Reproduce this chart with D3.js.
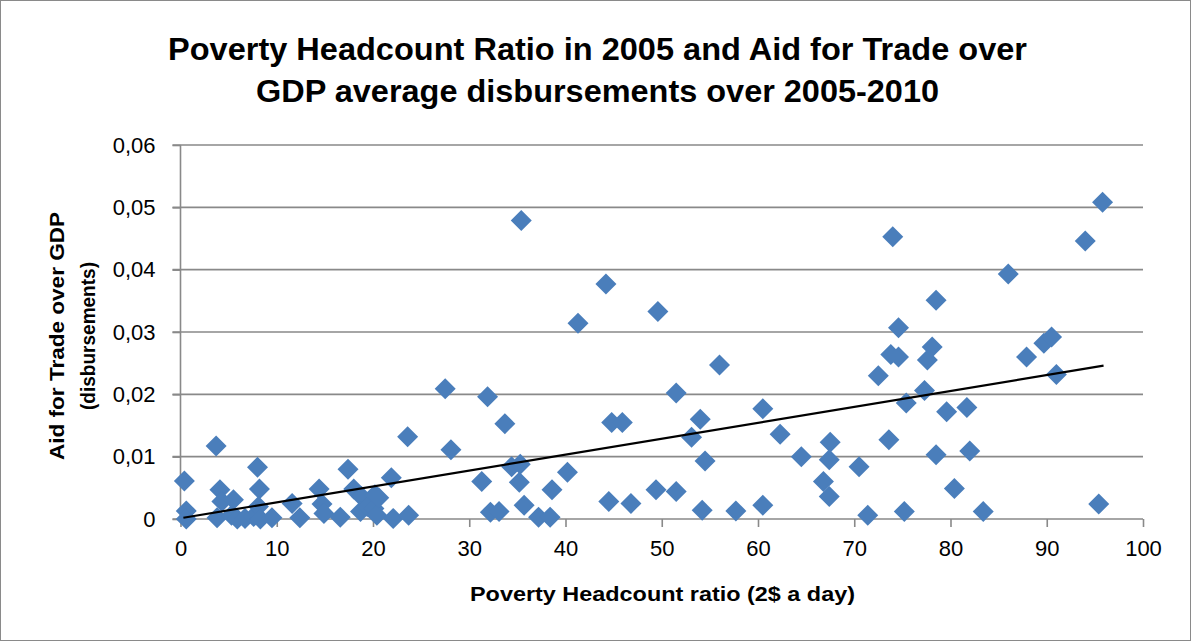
<!DOCTYPE html>
<html>
<head>
<meta charset="utf-8">
<script src="https://cdn.jsdelivr.net/npm/d3@7"></script>
<style>
  html, body { margin: 0; padding: 0; background: #fff; }
  svg { display: block; }
</style>
</head>
<body>
<svg id="chart" width="1192" height="642"></svg>
<script>
// ---- data ----
const povertyRatio = [
  0.4, 0.6, 0.6, 3.7, 4.1, 4.3, 3.8, 5.5, 5.3, 5.9, 6.7, 7.6, 8.0, 8.2, 8.1, 8.3, 9.5,
  11.6, 12.4, 14.4, 14.7, 14.9, 16.6, 17.4, 18.0, 18.8, 18.7, 19.4, 20.2, 20.1, 20.4, 20.6,
  21.9, 22.1, 23.6, 23.7,
  27.5, 28.1, 31.3, 31.9, 32.2, 33.1, 33.7, 34.4, 35.3, 35.2, 35.4, 35.7, 37.2, 38.4, 38.6,
  40.2, 41.3, 44.2, 44.8, 45.9, 44.5, 46.8, 49.6, 49.4, 51.5, 51.5, 53.1, 54.0, 54.5, 54.2,
  56.0, 57.7, 60.5, 60.5, 62.3, 64.5, 67.5, 67.4, 66.8, 67.4, 70.5, 71.4, 72.5, 73.6, 73.8,
  74.6, 74.0, 74.6, 75.4, 75.2, 77.3, 77.6, 78.1, 78.5, 78.5, 79.6, 80.4, 81.7, 82.0, 83.4,
  86.0, 87.9, 89.7, 90.5, 91.0, 94.0, 95.4, 95.8
];
const aidOverGdp = [
  0.0061, 0.0013, 0.0000, 0.0117, 0.0047, 0.0028, 0.0002, 0.0031, 0.0006, 0.0000, 0.0001, 0.0004, 0.0083, 0.0048, 0.0020, 0.0000, 0.0002,
  0.0025, 0.0002, 0.0048, 0.0024, 0.0009, 0.0003, 0.0080, 0.0048, 0.0036, 0.0012, 0.0020, 0.0039, 0.0017, 0.0006, 0.0034,
  0.0066, 0.0001, 0.0132, 0.0006,
  0.0209, 0.0111, 0.0060, 0.0196, 0.0011, 0.0012, 0.0153, 0.0084, 0.0088, 0.0059, 0.0479, 0.0022, 0.0003, 0.0003, 0.0047,
  0.0075, 0.0314, 0.0377, 0.0155, 0.0155, 0.0028, 0.0025, 0.0333, 0.0047, 0.0202, 0.0044, 0.0131, 0.0160, 0.0093, 0.0014,
  0.0247, 0.0013, 0.0177, 0.0022, 0.0136, 0.0100, 0.0123, 0.0095, 0.0060, 0.0036, 0.0084, 0.0006, 0.0230, 0.0127, 0.0264,
  0.0260, 0.0453, 0.0307, 0.0186, 0.0012, 0.0206, 0.0255, 0.0276, 0.0351, 0.0103, 0.0172, 0.0049, 0.0179, 0.0109, 0.0012,
  0.0393, 0.0260, 0.0282, 0.0292, 0.0232, 0.0446, 0.0024, 0.0508
];
// linear trendline end points (as drawn in the reference)
const trendX = [0.3, 95.9];
const trendY = [0.0002, 0.0246];

const xTicks = [0, 10, 20, 30, 40, 50, 60, 70, 80, 90, 100];
const yTicks = [0, 0.01, 0.02, 0.03, 0.04, 0.05, 0.06];
const yTickLabels = ["0", "0,01", "0,02", "0,03", "0,04", "0,05", "0,06"];

const titleLines = ["Poverty Headcount Ratio in 2005 and Aid for Trade over",
                    "GDP average disbursements over 2005-2010"];
const xTitle = "Poverty Headcount ratio (2$ a day)";
const yTitleLines = ["Aid for Trade over GDP", "(disbursements)"];

// ---- drawing ----
const svg = d3.select("#chart");
const W = 1192, H = 642;
const gridColor = "#898989";
const markColor = "#4a7ebb";
const tickFont = "'Liberation Sans', Arial, sans-serif";
const boldFont = "'Liberation Sans Narrow', 'Liberation Sans', Arial, sans-serif";

svg.append("rect").attr("x", 0.5).attr("y", 0.5).attr("width", W - 2).attr("height", H - 2)
  .attr("fill", "#fff").attr("stroke", "#8a8a8a").attr("stroke-width", 1);

const x = d3.scaleLinear().domain([0, 100]).range([180.5, 1143]);
const y = d3.scaleLinear().domain([0, 0.06]).range([519, 145]);

// gridlines
svg.append("g").selectAll("line").data(yTicks.filter(d => d > 0)).join("line")
  .attr("x1", x(0) - 8).attr("x2", x(100))
  .attr("y1", d => y(d)).attr("y2", d => y(d))
  .attr("stroke", gridColor).attr("stroke-width", 1.6);

// y axis
const yAxis = d3.axisLeft(y).tickValues(yTicks).tickSize(8)
  .tickFormat((d, i) => yTickLabels[i]).tickPadding(17);
const gy = svg.append("g").attr("transform", `translate(${x(0)},0)`).call(yAxis);
gy.select(".domain").attr("stroke", gridColor).attr("stroke-width", 1.6).attr("d", `M-8,${y(0)}H0V${y(0.06)}`);
gy.selectAll(".tick line").attr("stroke", gridColor).attr("stroke-width", 1.6);
gy.selectAll(".tick text").attr("font-family", tickFont).attr("font-size", 22).attr("fill", "#000");

// x axis
const xAxis = d3.axisBottom(x).tickValues(xTicks).tickSize(8).tickPadding(13);
const gx = svg.append("g").attr("transform", `translate(0,${y(0)})`).call(xAxis);
gx.select(".domain").attr("stroke", gridColor).attr("stroke-width", 1.6).attr("d", `M${x(0)},0H${x(100)}`);
gx.selectAll(".tick line").attr("stroke", gridColor).attr("stroke-width", 1.6);
gx.selectAll(".tick text").attr("font-family", tickFont).attr("font-size", 22).attr("fill", "#000");

// points
const pts = povertyRatio.map((v, i) => [v, aidOverGdp[i]]);
const r = 10.5;
svg.append("g").selectAll("path").data(pts).join("path")
  .attr("d", d => {
    const cx = x(d[0]), cy = y(d[1]);
    return `M${cx},${cy - r}L${cx + r},${cy}L${cx},${cy + r}L${cx - r},${cy}Z`;
  })
  .attr("fill", markColor);

// trendline
const line = d3.line().x(d => x(d[0])).y(d => y(d[1]));
svg.append("path").datum(trendX.map((v, i) => [v, trendY[i]]))
  .attr("d", line).attr("fill", "none").attr("stroke", "#000").attr("stroke-width", 2.2);

// title
const tl = [{t: titleLines[0], y: 60, w: 859}, {t: titleLines[1], y: 102, w: 683}];
svg.append("g").selectAll("text").data(tl).join("text")
  .attr("x", 597.5).attr("y", d => d.y).attr("text-anchor", "middle")
  .attr("font-family", boldFont).attr("font-weight", "bold").attr("font-size", 31)
  .attr("textLength", d => d.w).attr("lengthAdjust", "spacingAndGlyphs")
  .text(d => d.t);

// x title
svg.append("text").attr("x", 662.5).attr("y", 601).attr("text-anchor", "middle")
  .attr("font-family", boldFont).attr("font-weight", "bold").attr("font-size", 21)
  .attr("textLength", 385).attr("lengthAdjust", "spacingAndGlyphs")
  .text(xTitle);

// y title
const yt = [{t: yTitleLines[0], x: 64, w: 248}, {t: yTitleLines[1], x: 95, w: 148}];
svg.append("g").selectAll("text").data(yt).join("text")
  .attr("transform", d => `translate(${d.x},336) rotate(-90)`)
  .attr("text-anchor", "middle")
  .attr("font-family", boldFont).attr("font-weight", "bold").attr("font-size", 21)
  .attr("textLength", d => d.w).attr("lengthAdjust", "spacingAndGlyphs")
  .text(d => d.t);
</script>
</body>
</html>
